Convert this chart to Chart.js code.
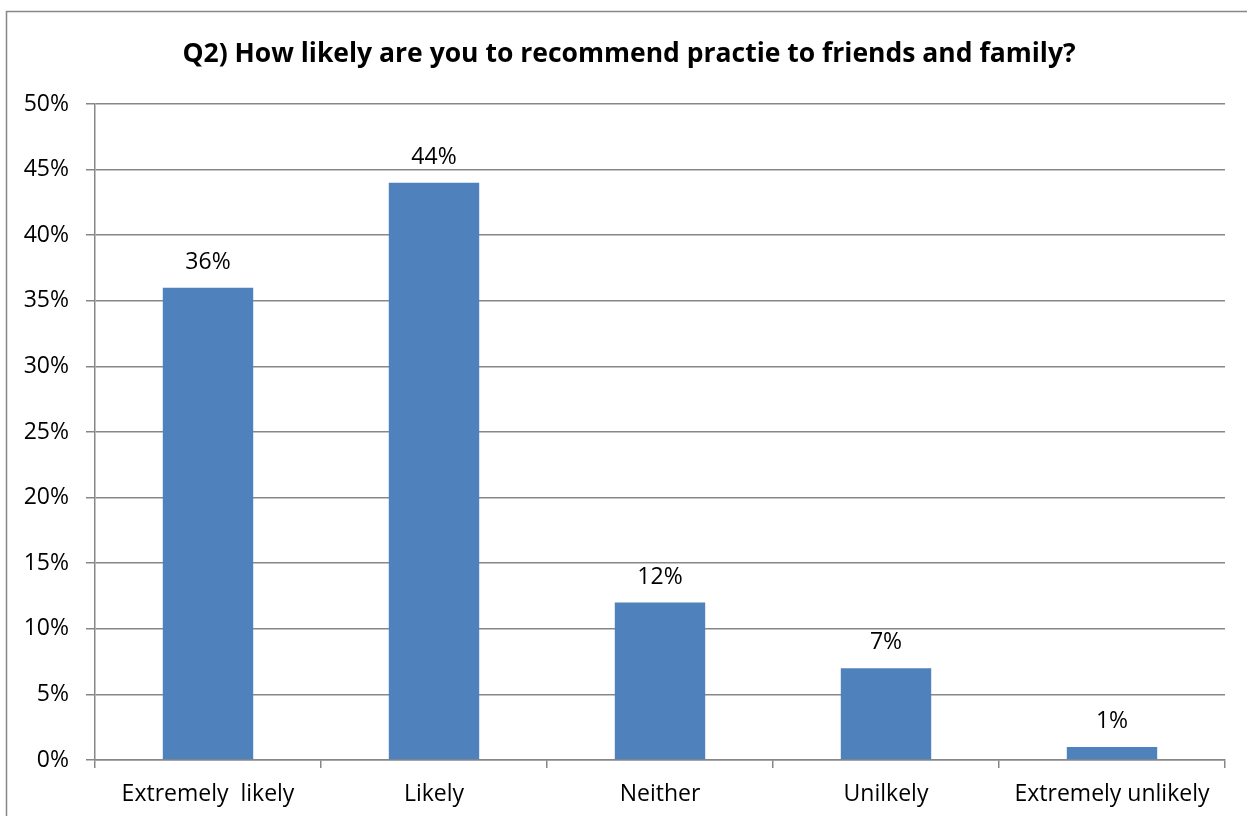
<!DOCTYPE html>
<html>
<head>
<meta charset="utf-8">
<title>Q2 recommend</title>
<script src="https://cdn.jsdelivr.net/npm/chart.js@4/dist/chart.umd.min.js"></script>
<style>
  html, body { margin: 0; padding: 0; background: #fff; }
  #wrap { width: 1247px; height: 816px; position: relative; }
</style>
</head>
<body>
<div id="wrap"><canvas id="chart"></canvas></div>
<script>
// ── Data ────────────────────────────────────────────────────────────────────
const categories = ['Extremely  likely', 'Likely', 'Neither', 'Unilkely', 'Extremely unlikely'];
const shares     = [36, 44, 12, 7, 1];   // percent of respondents
const yMin = 0, yMax = 50, yStep = 5;
const chartTitle = 'Q2) How likely are you to recommend practie to friends and family?';

const FONT   = '"Open Sans", Lato, "Liberation Sans", sans-serif';
const GRID   = '#878787';
const BAR    = '#4f81bd';

// white background, outer frame and the title line
const framePlugin = {
    id: 'frame',
    beforeDraw(chart) {
        const c = chart.ctx;
        c.save();
        c.fillStyle = '#fff';
        c.fillRect(0, 0, chart.width, chart.height);
        c.strokeStyle = GRID;
        c.lineWidth = 1.5;
        c.strokeRect(6.5, 11.5, chart.width + 20, chart.height + 20);

        c.fillStyle = '#000';
        c.font = 'bold 26.5px ' + FONT;
        c.textAlign = 'center';
        c.textBaseline = 'alphabetic';
        c.fillText(chartTitle, 629, 62);
        c.restore();
    }
};

// value labels above each bar
const valueLabels = {
    id: 'valueLabels',
    afterDatasetsDraw(chart) {
        const c = chart.ctx;
        const meta = chart.getDatasetMeta(0);
        c.save();
        c.font = '23px ' + FONT;
        c.fillStyle = '#000';
        c.textAlign = 'center';
        c.textBaseline = 'alphabetic';
        meta.data.forEach((bar, i) => {
            c.fillText(shares[i] + '%', bar.x, bar.y - 19);
        });
        c.restore();
    }
};

new Chart(document.getElementById('chart'), {
    type: 'bar',
    data: {
        labels: categories,
        datasets: [{
            data: shares,
            backgroundColor: BAR,
            borderWidth: 0,
            barPercentage: 0.4,
            categoryPercentage: 1.0,
        }]
    },
    options: {
        responsive: true,
        maintainAspectRatio: false,
        animation: false,
        layout: { padding: { left: 5, right: 22, top: 104, bottom: 0 } },
        plugins: {
            legend: { display: false },
            tooltip: { enabled: false },
            title: { display: false },
        },
        scales: {
            x: {
                grid: { drawOnChartArea: false, drawTicks: true, tickLength: 8, color: GRID, lineWidth: 1.5, offset: true },
                border: { color: GRID, width: 1.5 },
                ticks: { color: '#000', font: { family: FONT, size: 23 }, padding: 13, maxRotation: 0, autoSkip: false },
                afterFit(scale) { scale.height = 56; },
            },
            y: {
                min: yMin,
                max: yMax,
                ticks: {
                    stepSize: yStep,
                    color: '#000',
                    font: { family: FONT, size: 23 },
                    padding: 17,
                    callback: v => v + '%',
                },
                grid: { color: GRID, lineWidth: 1.5, tickLength: 9 },
                border: { color: GRID, width: 1.5 },
                afterFit(scale) { scale.width = 90; },
            }
        }
    },
    plugins: [framePlugin, valueLabels]
});
</script>
</body>
</html>
